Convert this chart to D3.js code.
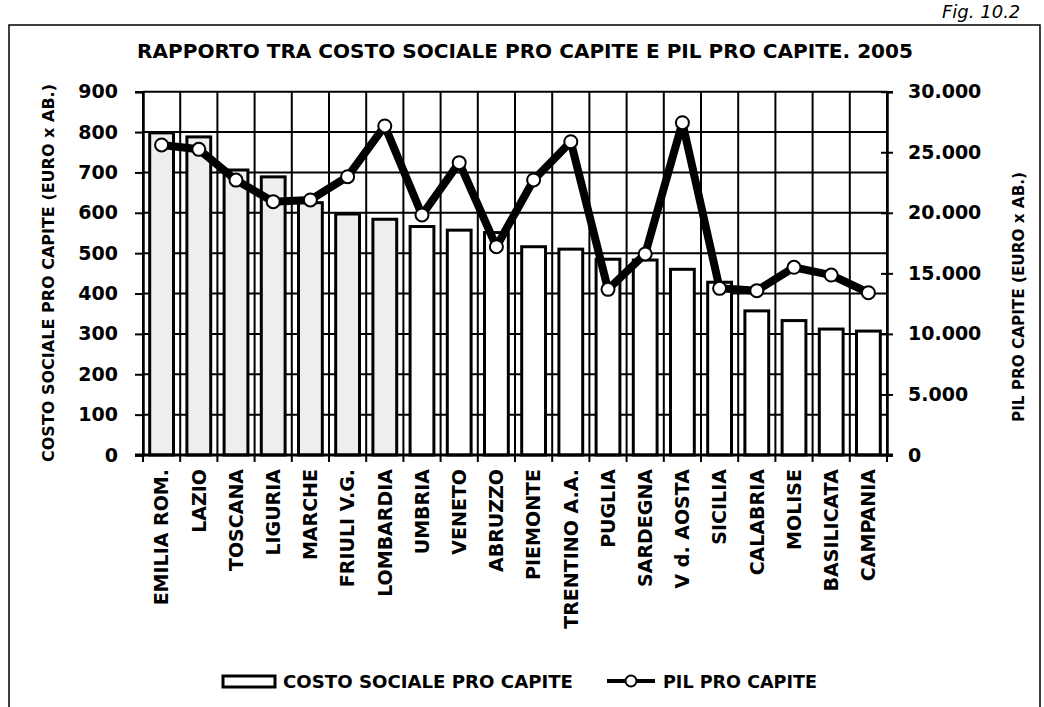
<!DOCTYPE html>
<html>
<head>
<meta charset="utf-8">
<script src="https://cdn.jsdelivr.net/npm/d3@7/dist/d3.min.js"></script>
<style>
  body { margin: 0; background: #fff; }
  text { font-family: "DejaVu Sans", sans-serif; font-weight: bold; fill: #000; }
</style>
</head>
<body>
<svg id="chart" width="1044" height="707"></svg>
<script>
// regions, costo sociale (euro x ab.) and pil (euro x ab.), 2005
var regioni = ['EMILIA ROM.', 'LAZIO', 'TOSCANA', 'LIGURIA', 'MARCHE', 'FRIULI V.G.', 'LOMBARDIA',
  'UMBRIA', 'VENETO', 'ABRUZZO', 'PIEMONTE', 'TRENTINO A.A.', 'PUGLIA', 'SARDEGNA',
  'V d. AOSTA', 'SICILIA', 'CALABRIA', 'MOLISE', 'BASILICATA', 'CAMPANIA'];
var costoSociale = [798, 788, 706, 689, 625, 597, 584, 566, 557, 551, 516, 510, 485, 483,
  460, 428, 357, 333, 312, 307];
var pil = [25600, 25240, 22700, 20920, 21060, 22980, 27170, 19820, 24140, 17200, 22710, 25870,
  13680, 16600, 27440, 13760, 13570, 15500, 14860, 13400];
var leftTicks = [0, 100, 200, 300, 400, 500, 600, 700, 800, 900];
var rightTicks = [0, 5000, 10000, 15000, 20000, 25000, 30000];

var data = regioni.map(function(r, i){ return { regione: r, costo: costoSociale[i], pil: pil[i] }; });

var svg = d3.select('#chart');
var pLeft = 143, pRight = 887, pTop = 91.7, pBottom = 455;

var x = d3.scaleBand().domain(regioni).range([pLeft, pRight]).padding(0);
var y = d3.scaleLinear().domain([0, 900]).range([pBottom, pTop]);
var y2 = d3.scaleLinear().domain([0, 30000]).range([pBottom, pTop]);
var it = d3.formatLocale({ decimal: ',', thousands: '.', grouping: [3], currency: ['', ''] });
var fmt = it.format(',');

// outer frame + fig label
svg.append('rect').attr('x', 9).attr('y', 25).attr('width', 1031).attr('height', 700)
  .attr('fill', 'none').attr('stroke', '#000').attr('stroke-width', 1.5);
svg.append('text').attr('x', 942).attr('y', 18).attr('font-size', 18)
  .style('font-weight', 'normal').style('font-style', 'italic').text('Fig. 10.2');

svg.append('text').attr('x', 525).attr('y', 58).attr('text-anchor', 'middle')
  .attr('font-size', 20).attr('textLength', 776).attr('lengthAdjust', 'spacingAndGlyphs')
  .text('RAPPORTO TRA COSTO SOCIALE PRO CAPITE E PIL PRO CAPITE. 2005');

// grid
var g = svg.append('g');
g.selectAll('.hgrid').data(leftTicks).enter().append('line')
  .attr('x1', pLeft).attr('x2', pRight)
  .attr('y1', function(d){ return y(d); }).attr('y2', function(d){ return y(d); })
  .attr('stroke', '#000').attr('stroke-width', 2);
var bounds = regioni.map(function(r){ return x(r); }).concat([pRight]);
g.selectAll('.vgrid').data(bounds).enter().append('line')
  .attr('x1', function(d){ return d; }).attr('x2', function(d){ return d; })
  .attr('y1', pTop).attr('y2', pBottom + 7)
  .attr('stroke', '#000').attr('stroke-width', 2);

// bars
var bw = x.bandwidth() * 0.64;
g.selectAll('.bar').data(data).enter().append('rect')
  .attr('x', function(d){ return x(d.regione) + (x.bandwidth() - bw) / 2; })
  .attr('y', function(d){ return y(d.costo); })
  .attr('width', bw)
  .attr('height', function(d){ return pBottom - y(d.costo); })
  .attr('fill', function(d, i){ return i < 7 ? '#eeeeee' : '#fff'; })
  .attr('stroke', '#000').attr('stroke-width', 3);

// axes
var ax = svg.append('g').attr('transform', 'translate(' + pLeft + ',0)')
  .call(d3.axisLeft(y).tickValues(leftTicks).tickSize(8).tickPadding(17));
ax.select('.domain').attr('stroke-width', 2.5);
ax.selectAll('line').attr('stroke-width', 2);
ax.selectAll('text').attr('font-size', 19).style('font-family', '"DejaVu Sans", sans-serif').style('font-weight', 'bold');

var ax2 = svg.append('g').attr('transform', 'translate(' + pRight + ',0)')
  .call(d3.axisRight(y2).tickValues(rightTicks).tickFormat(fmt).tickSize(6).tickPadding(15));
ax2.select('.domain').attr('stroke-width', 2.5);
ax2.selectAll('line').attr('x1', -6).attr('stroke-width', 2);
ax2.selectAll('text').attr('font-size', 19).style('font-family', '"DejaVu Sans", sans-serif').style('font-weight', 'bold');

svg.append('line').attr('x1', pLeft - 8).attr('x2', pRight + 6).attr('y1', pBottom).attr('y2', pBottom)
  .attr('stroke', '#000').attr('stroke-width', 3);

var ax3 = svg.append('g').attr('transform', 'translate(0,' + pBottom + ')')
  .call(d3.axisBottom(x).tickSize(0));
ax3.select('.domain').remove();
ax3.selectAll('text')
  .attr('transform', 'rotate(-90)')
  .attr('text-anchor', 'end')
  .attr('x', -14).attr('y', 0).attr('dy', '0.36em')
  .attr('font-size', 19).style('font-family', '"DejaVu Sans", sans-serif').style('font-weight', 'bold');

// axis titles
svg.append('text').attr('transform', 'translate(54,273) rotate(-90)').attr('text-anchor', 'middle')
  .attr('font-size', 16).attr('textLength', 378).attr('lengthAdjust', 'spacingAndGlyphs')
  .text('COSTO SOCIALE PRO CAPITE (EURO x AB.)');
svg.append('text').attr('transform', 'translate(1024,297) rotate(-90)').attr('text-anchor', 'middle')
  .attr('font-size', 16).attr('textLength', 250).attr('lengthAdjust', 'spacingAndGlyphs')
  .text('PIL PRO CAPITE (EURO x AB.)');

// pil line
var line = d3.line().x(function(d){ return x(d.regione) + x.bandwidth() / 2; })
  .y(function(d){ return y2(d.pil); });
svg.append('path').datum(data).attr('d', line).attr('fill', 'none')
  .attr('stroke', '#000').attr('stroke-width', 8).attr('stroke-linejoin', 'round');
svg.selectAll('.pt').data(data).enter().append('circle')
  .attr('cx', function(d){ return x(d.regione) + x.bandwidth() / 2; })
  .attr('cy', function(d){ return y2(d.pil); })
  .attr('r', 6.5).attr('fill', '#fff').attr('stroke', '#000').attr('stroke-width', 2);

// legend
var ly = 681;
svg.append('rect').attr('x', 223).attr('y', ly - 5).attr('width', 52).attr('height', 11)
  .attr('fill', '#fff').attr('stroke', '#000').attr('stroke-width', 3);
svg.append('text').attr('x', 283).attr('y', ly + 7).attr('font-size', 17)
  .attr('textLength', 290).attr('lengthAdjust', 'spacingAndGlyphs').text('COSTO SOCIALE PRO CAPITE');
svg.append('line').attr('x1', 607).attr('x2', 655).attr('y1', ly).attr('y2', ly)
  .attr('stroke', '#000').attr('stroke-width', 4);
svg.append('circle').attr('cx', 631).attr('cy', ly).attr('r', 5.5)
  .attr('fill', '#fff').attr('stroke', '#000').attr('stroke-width', 2);
svg.append('text').attr('x', 663).attr('y', ly + 7).attr('font-size', 17)
  .attr('textLength', 154).attr('lengthAdjust', 'spacingAndGlyphs').text('PIL PRO CAPITE');
</script>
</body>
</html>
